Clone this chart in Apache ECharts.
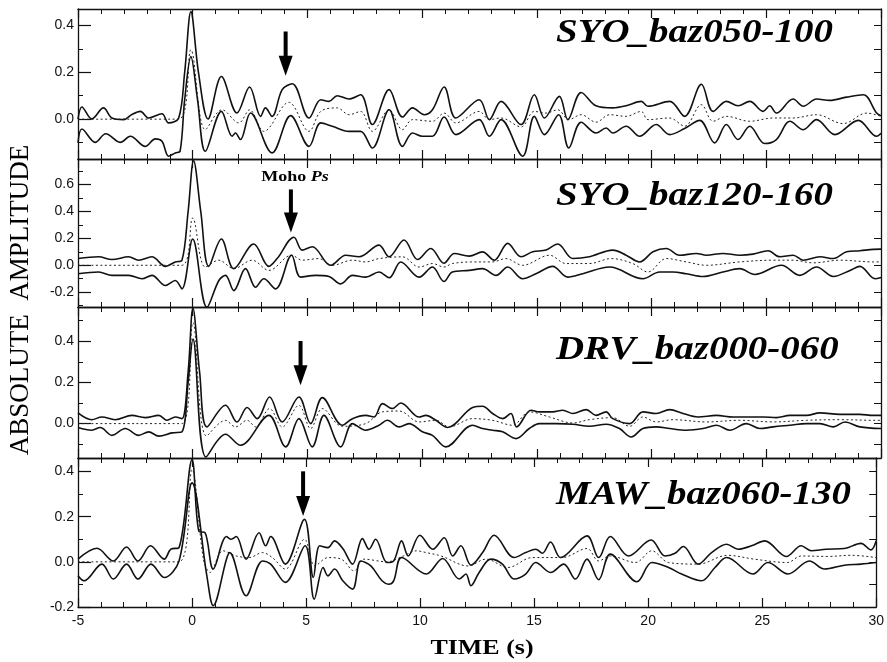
<!DOCTYPE html>
<html>
<head>
<meta charset="utf-8">
<title>Receiver functions</title>
<script src="https://cdn.jsdelivr.net/npm/echarts@6/dist/echarts.min.js"></script>
<style>
  html, body { margin: 0; padding: 0; background: #fff; }
  #wrap { position: relative; width: 887px; height: 662px; }
  .panel { position: absolute; left: 0; top: 0; width: 887px; height: 662px; }
</style>
</head>
<body>
<div id="wrap">
  <div class="panel" id="panel0"></div>
  <div class="panel" id="panel1"></div>
  <div class="panel" id="panel2"></div>
  <div class="panel" id="panel3"></div>
</div>
<script>
// station / back-azimuth labels, one per panel
const panelNames = ['SYO_baz050-100', 'SYO_baz120-160', 'DRV_baz000-060', 'MAW_baz060-130'];

// amplitude range and tick values per panel
const yMin = [-0.17, -0.31, -0.167, -0.2];
const yMax = [0.47, 0.79, 0.566, 0.46];
const yLabelTicks = [[0, 0.2, 0.4], [-0.2, 0, 0.2, 0.4, 0.6], [0, 0.2, 0.4], [-0.2, 0, 0.2, 0.4]];
const yMinorTicks = [[-0.1, 0.1, 0.3], [-0.3, -0.1, 0.1, 0.3, 0.5, 0.7], [-0.1, 0.1, 0.3, 0.5], [-0.1, 0.1, 0.3]];
const yRightTicks = [
  [-0.1, 0, 0.1, 0.2, 0.3, 0.4],
  [-0.2, 0, 0.2, 0.4, 0.6],
  [-0.1, 0, 0.1, 0.2, 0.3, 0.4, 0.5],
  [-0.1, 0, 0.1, 0.2, 0.3, 0.4]
];

// [time (s), amplitude] — upper bound, mean (dotted), lower bound
const p1Upper = [[-5,0.0],[-4.83,0.052],[-4.40,0.001],[-3.89,0.048],[-3.52,0.005],[-3.01,-0.002],[-2.65,0.020],[-2.28,0.033],[-1.92,0.005],[-1.34,0.023],[-1.05,-0.016],[-0.61,0.005],[-0.35,0.2],[-0.08,0.459],[0.25,0.2],[0.67,0.001],[1.25,0.182],[1.93,0.026],[2.48,0.137],[2.96,0.012],[3.17,0.048],[3.46,0.012],[3.90,0.126],[4.34,0.151],[5.07,0.005],[5.58,0.083],[5.94,0.076],[6.30,0.100],[6.81,0.086],[7.32,0.104],[7.83,-0.023],[8.56,0.126],[9.14,0.009],[9.58,0.048],[10.09,0.019],[10.45,0.040],[10.96,0.137],[11.47,0.005],[12.49,0.083],[12.93,-0.002],[13.44,0.076],[14.31,-0.023],[14.89,0.104],[15.33,0.005],[15.98,0.097],[16.35,-0.002],[16.93,0.114],[17.58,0.057],[18.31,0.048],[18.89,0.057],[19.55,0.076],[19.84,0.055],[20.79,0.076],[21.44,0.012],[22.17,0.149],[22.68,0.033],[23.26,0.076],[23.77,0.057],[24.28,0.076],[24.86,0.033],[25.15,0.057],[25.44,0.026],[26.17,0.086],[26.61,0.055],[27.19,0.086],[27.77,0.080],[28.50,0.094],[29.23,0.104],[29.81,0.026],[30,0.015]];
const p1Mean = [[-5,0],[-4.0,0.0],[-2.5,0.0],[-0.61,0.0],[-0.08,0.296],[0.55,-0.045],[1.28,0.040],[2.01,-0.016],[2.48,0.040],[3.10,-0.052],[4.19,0.072],[5.07,-0.052],[5.58,0.033],[6.30,0.048],[6.81,0.019],[7.32,0.033],[7.83,-0.052],[8.56,0.040],[9.14,-0.045],[9.58,-0.002],[10.45,-0.009],[10.96,0.026],[11.47,-0.016],[12.49,0.033],[12.93,-0.002],[13.44,0.005],[14.31,-0.033],[14.89,0.033],[15.40,0.026],[15.91,0.040],[16.39,-0.002],[16.93,0.019],[17.58,-0.013],[18.17,0.019],[18.89,0.012],[19.55,0.033],[19.84,-0.002],[20.79,0.005],[21.44,-0.030],[22.17,0.062],[22.68,-0.009],[23.26,0.012],[24.28,-0.009],[25.30,0.005],[26.17,0.005],[27.19,0.019],[28.35,-0.019],[29.38,0.026],[30,0.012]];
const p1Lower = [[-5,-0.101],[-4.83,-0.042],[-4.25,-0.099],[-3.79,-0.062],[-3.16,-0.099],[-2.72,-0.073],[-2.07,-0.116],[-1.63,-0.084],[-1.34,-0.094],[-1.05,-0.158],[-0.76,-0.144],[-0.55,-0.137],[-0.35,0.083],[-0.08,0.267],[0.21,0.083],[0.55,-0.137],[1.25,0.033],[1.72,-0.073],[1.86,-0.059],[2.08,-0.087],[2.52,0.026],[3.46,-0.144],[4.27,0.015],[5.07,-0.116],[5.58,-0.016],[6.08,-0.030],[6.81,-0.052],[7.32,-0.052],[7.83,-0.123],[8.56,0.040],[9.14,-0.116],[9.58,-0.059],[10.01,-0.073],[10.45,-0.073],[10.96,0.009],[11.47,-0.066],[12.49,-0.002],[12.93,-0.073],[13.44,-0.002],[14.38,-0.158],[14.89,0.012],[15.33,-0.066],[15.95,0.019],[16.39,-0.123],[16.93,-0.013],[17.58,-0.059],[18.02,-0.038],[18.31,-0.059],[18.89,-0.030],[19.48,-0.073],[20.20,-0.023],[20.79,-0.066],[21.44,-0.040],[22.10,-0.005],[22.75,-0.101],[23.26,-0.023],[23.77,-0.087],[24.28,-0.030],[24.93,-0.104],[25.44,-0.087],[26.03,-0.009],[26.61,-0.045],[27.19,-0.002],[27.99,-0.066],[29.01,-0.005],[29.81,-0.073],[30,-0.06]];

const p2Upper = [[-5,0.050],[-4.10,0.063],[-3.52,0.043],[-2.79,0.063],[-2.36,0.038],[-1.78,0.063],[-1.19,-0.008],[-0.76,0.025],[-0.47,0.038],[-0.2,0.4],[0.04,0.777],[0.35,0.4],[0.70,-0.008],[1.25,0.195],[1.79,-0.025],[2.66,0.158],[3.32,-0.008],[3.68,0.050],[4.41,0.208],[4.77,0.113],[5.21,0.138],[6.01,0.0],[6.67,0.075],[7.25,0.063],[8.12,0.150],[8.56,0.063],[9.21,0.188],[9.80,0.043],[10.38,0.125],[10.95,0.015],[11.40,0.088],[12.05,0.068],[12.63,0.100],[13.14,0.038],[13.73,0.163],[14.31,0.063],[14.82,0.100],[15.40,0.113],[15.91,0.158],[16.57,0.050],[17.29,0.063],[18.31,0.113],[18.89,0.075],[19.48,0.025],[20.06,0.100],[20.64,0.125],[21.22,0.075],[21.95,0.088],[22.39,0.075],[23.11,0.088],[23.84,0.075],[24.42,0.083],[25.08,0.108],[25.59,0.063],[26.17,0.075],[26.61,0.038],[27.34,0.063],[27.92,0.050],[28.50,0.100],[29.08,0.108],[29.66,0.118],[30,0.120]];
const p2Mean = [[-5,0],[-2.5,0.0],[-0.47,0.0],[0.0,0.351],[0.55,-0.013],[1.14,0.038],[1.79,-0.025],[2.59,0.038],[3.32,-0.038],[4.31,0.075],[4.77,0.038],[5.50,0.050],[6.08,0.0],[6.96,0.038],[7.54,0.025],[8.12,0.050],[9.14,0.063],[9.87,-0.013],[10.45,0.013],[10.95,-0.013],[11.32,0.013],[12.20,0.025],[13.07,0.025],[13.65,0.050],[14.38,0.0],[15.55,0.075],[16.27,0.013],[17.29,0.013],[18.24,0.050],[19.18,0.013],[19.84,-0.050],[20.64,0.050],[21.52,0.025],[22.39,0.0],[23.84,0.025],[25.30,0.038],[26.17,0.038],[27.04,0.018],[28.21,0.038],[29.66,0.025],[30,0.025]];
const p2Lower = [[-5,-0.063],[-4.10,-0.050],[-3.52,-0.075],[-2.79,-0.075],[-2.21,-0.100],[-1.78,-0.075],[-1.19,-0.150],[-0.76,-0.113],[-0.47,-0.175],[0.0,0.195],[0.62,-0.313],[1.14,-0.113],[1.43,-0.075],[1.79,-0.188],[2.30,-0.025],[2.74,-0.163],[3.10,-0.100],[3.61,-0.175],[4.31,0.075],[4.70,-0.088],[5.36,-0.075],[5.94,-0.083],[6.45,-0.138],[6.96,-0.075],[7.54,-0.088],[8.12,-0.050],[8.56,-0.093],[9.07,0.025],[9.87,-0.088],[10.45,-0.013],[10.95,-0.120],[11.32,-0.050],[12.05,-0.038],[12.63,-0.025],[13.22,-0.075],[13.73,-0.013],[14.38,-0.100],[14.96,-0.063],[15.69,-0.008],[16.35,-0.088],[17.00,-0.063],[18.17,-0.013],[19.62,-0.100],[20.35,-0.050],[20.93,-0.050],[21.52,-0.063],[22.24,-0.083],[23.11,-0.050],[23.84,-0.025],[24.50,-0.068],[25.66,0.0],[26.46,-0.075],[27.19,-0.013],[27.92,-0.083],[28.65,-0.038],[29.08,-0.008],[29.74,-0.100],[30,-0.090]];

const p3Upper = [[-5,0.052],[-4.40,0.019],[-3.96,0.032],[-3.38,0.019],[-2.65,0.040],[-2.07,0.029],[-1.48,0.040],[-1.12,0.016],[-0.76,0.032],[-0.47,0.024],[-0.2,0.25],[0.01,0.560],[0.3,0.25],[0.62,-0.016],[1.43,0.089],[1.93,0.008],[2.37,0.078],[2.81,0.024],[3.35,0.129],[3.90,0.008],[4.63,0.129],[5.14,0.0],[5.65,0.126],[6.52,-0.008],[6.96,0.024],[7.54,0.040],[7.90,0.032],[8.27,0.097],[8.70,0.073],[9.07,0.100],[9.87,0.032],[10.16,0.040],[10.60,0.016],[11.11,-0.019],[12.20,0.078],[12.63,0.084],[13.07,0.049],[13.51,0.024],[13.87,0.049],[14.12,-0.016],[14.75,0.065],[15.11,0.057],[15.69,0.057],[16.13,0.065],[16.57,0.049],[17.15,0.068],[17.58,0.040],[18.02,0.057],[18.31,0.024],[19.04,0.0],[19.62,0.057],[20.20,0.049],[20.79,0.068],[21.37,0.049],[22.02,0.032],[22.83,0.040],[23.55,0.032],[24.28,0.032],[24.86,0.032],[25.44,0.029],[26.03,0.040],[26.75,0.040],[27.34,0.052],[28.21,0.045],[29.08,0.045],[29.66,0.040],[30,0.040]];
const p3Mean = [[-5,0],[-2.5,0.0],[-0.47,0.0],[0.01,0.490],[0.6,-0.06],[1.43,0.016],[1.86,-0.016],[2.37,0.016],[2.74,-0.016],[3.35,0.073],[3.90,-0.016],[4.63,0.089],[5.14,-0.024],[5.65,0.073],[6.52,-0.013],[7.54,0.0],[8.27,0.057],[9.0,0.061],[9.87,0.008],[10.60,0.016],[11.18,-0.016],[12.20,0.024],[13.07,0.016],[13.94,-0.008],[14.67,0.057],[15.55,0.032],[16.57,0.003],[17.29,0.019],[18.31,0.029],[19.04,-0.013],[19.62,0.032],[20.20,0.008],[20.93,0.019],[22.39,0.008],[23.84,0.016],[25.30,0.008],[26.75,0.016],[28.21,0.019],[29.66,0.016],[30,0.016]];
const p3Lower = [[-5,-0.019],[-4.40,-0.032],[-4.03,-0.019],[-3.52,-0.057],[-2.94,-0.024],[-2.36,-0.057],[-1.92,-0.040],[-1.48,-0.061],[-0.90,-0.045],[-0.47,-0.040],[-0.2,0.2],[0.01,0.410],[0.58,-0.162],[1.43,-0.052],[2.08,-0.105],[3.32,0.040],[4.05,-0.113],[4.63,0.024],[5.21,-0.113],[5.72,0.040],[6.45,-0.113],[6.96,0.0],[7.54,-0.032],[8.12,-0.008],[8.48,0.016],[9.0,-0.016],[9.43,0.0],[10.01,-0.040],[10.45,-0.057],[11.03,-0.113],[12.20,-0.008],[12.63,-0.024],[13.07,-0.032],[13.51,-0.040],[14.09,-0.073],[14.67,-0.024],[15.11,0.0],[15.84,0.0],[16.57,-0.003],[17.29,-0.013],[18.02,-0.003],[18.60,-0.024],[19.11,-0.065],[19.62,-0.024],[20.20,-0.016],[20.79,-0.024],[21.52,-0.032],[22.24,-0.024],[22.83,-0.008],[23.41,-0.032],[24.13,0.0],[24.72,-0.024],[25.30,-0.016],[26.03,-0.008],[26.75,0.0],[27.34,0.0],[27.92,-0.016],[28.43,0.008],[29.08,-0.016],[30,-0.024]];

const p4Upper = [[-5,0.012],[-4.17,0.060],[-3.45,0.004],[-2.87,0.066],[-2.37,0.004],[-1.82,0.071],[-1.22,0.012],[-0.93,0.056],[-0.57,0.063],[0.0,0.453],[0.30,0.135],[0.57,0.129],[0.93,-0.032],[1.51,0.112],[1.72,0.100],[1.94,0.112],[2.37,0.012],[2.94,0.129],[3.23,0.071],[3.45,0.112],[4.09,-0.010],[4.93,0.188],[5.32,-0.069],[5.60,0.071],[5.96,0.063],[6.25,0.093],[6.61,0.059],[7.04,-0.010],[7.47,0.103],[7.76,0.056],[8.05,0.100],[8.55,-0.003],[8.84,0.004],[9.19,0.093],[9.48,0.026],[9.99,0.118],[10.56,0.056],[11.06,0.107],[11.43,0.026],[11.79,0.071],[12.23,-0.015],[12.74,0.041],[13.25,0.118],[14.12,0.019],[14.63,0.041],[15.07,0.056],[15.36,0.038],[15.72,0.088],[16.16,0.019],[17.32,0.115],[17.83,0.019],[18.34,0.112],[19.14,0.026],[20.13,0.097],[20.74,0.026],[21.18,0.038],[21.54,0.068],[22.20,-0.010],[22.78,0.041],[23.44,0.078],[23.94,0.056],[24.53,0.071],[25.11,0.093],[26.06,0.024],[26.71,0.071],[27.15,0.049],[27.80,0.056],[28.60,0.059],[29.33,0.082],[29.77,0.053],[30,0.093]];
const p4Mean = [[-5,0],[-2.5,0.0],[-0.57,0.0],[0.0,0.409],[0.50,0.012],[0.79,-0.047],[1.36,0.049],[1.94,0.026],[2.51,0.019],[3.09,0.041],[3.52,0.019],[4.09,-0.032],[4.93,0.100],[5.39,-0.018],[5.96,0.019],[6.54,0.012],[7.11,-0.040],[7.54,0.012],[8.55,0.0],[9.27,0.026],[9.84,0.049],[10.27,0.041],[10.92,0.026],[12.10,-0.018],[12.89,0.012],[13.85,-0.025],[14.92,0.019],[16.22,0.019],[17.32,0.059],[17.83,0.004],[18.34,0.026],[19.44,-0.003],[20.16,0.049],[20.89,-0.003],[22.20,-0.010],[23.48,0.029],[24.65,0.012],[26.10,-0.003],[26.71,0.026],[27.88,0.024],[28.90,0.029],[30,0.019]];
const p4Lower = [[-5,-0.062],[-4.74,-0.084],[-3.95,-0.010],[-3.45,-0.076],[-2.87,-0.010],[-2.37,-0.076],[-1.80,-0.010],[-1.22,-0.069],[-0.57,0.004],[0.0,0.350],[0.65,-0.062],[0.93,-0.194],[1.51,0.012],[1.65,0.041],[2.37,-0.150],[3.09,0.004],[3.45,-0.010],[4.09,-0.091],[4.96,0.071],[5.36,-0.165],[5.75,-0.025],[5.96,-0.062],[6.25,-0.032],[6.61,-0.084],[7.04,-0.121],[7.40,0.004],[7.84,-0.018],[8.33,-0.084],[8.62,-0.099],[8.84,-0.084],[9.19,0.019],[10.27,-0.054],[10.99,0.015],[11.72,-0.076],[12.01,-0.054],[12.23,-0.106],[12.59,-0.047],[13.10,0.012],[13.61,-0.010],[14.12,-0.076],[14.63,-0.054],[15.07,-0.003],[15.72,-0.047],[16.30,-0.010],[16.81,-0.076],[17.32,0.012],[17.83,-0.079],[18.34,0.034],[19.51,-0.088],[20.16,-0.003],[20.89,-0.025],[21.47,-0.054],[22.34,-0.084],[22.93,-0.025],[23.44,0.019],[24.60,-0.054],[25.25,-0.003],[26.13,-0.054],[27.07,0.004],[27.73,-0.032],[28.60,-0.015],[29.33,-0.010],[30,-0.003]];

// Moho Ps arrows: time, start amplitude, tip amplitude
const arrowTime = [4.05, 4.28, 4.70, 4.87];
const arrowTop  = [0.374, 0.564, 0.401, 0.401];
const arrowTip  = [0.185, 0.243, 0.186, 0.203];
const arrowLabel = ['', 'Moho Ps', '', ''];

const panels = [
  [p1Upper, p1Mean, p1Lower],
  [p2Upper, p2Mean, p2Lower],
  [p3Upper, p3Mean, p3Lower],
  [p4Upper, p4Mean, p4Lower]
];

const gridBoxes = [
  { top: 9, height: 150 },
  { top: 159, height: 148 },
  { top: 307, height: 151 },
  { top: 458, height: 149 }
];
const titleY = [33, 196, 350, 495];
const HEAD_W = 14, HEAD_L = 20;

const serif = '"Liberation Serif", "Times New Roman", serif';
const sans = '"Liberation Sans", Arial, sans-serif';
const ink = '#111';

// one transparent chart per panel, stacked on top of each other
panels.forEach((lines, i) => {
  const chart = echarts.init(document.getElementById('panel' + i), null, { renderer: 'canvas' });

  const xAxis = ['bottom', 'top'].map(pos => ({
    type: 'value',
    position: pos,
    min: -5,
    max: 30,
    interval: 5,
    axisLine: { show: true, onZero: false, lineStyle: { color: ink, width: 1.3 } },
    axisTick: { show: true, inside: true, length: 9, lineStyle: { color: ink, width: 1.2 } },
    minorTick: { show: true, splitNumber: 5, length: 5, lineStyle: { color: ink, width: 1 } },
    axisLabel: { show: pos === 'bottom' && i === 3, color: ink, fontFamily: sans, fontSize: 14, margin: 7 },
    splitLine: { show: false }
  }));

  const yAxis = [
    { // left: labelled major ticks
      type: 'value', position: 'left', min: yMin[i], max: yMax[i],
      axisLine: { show: true, onZero: false, lineStyle: { color: ink, width: 1.3 } },
      axisTick: { show: true, inside: true, length: 13, customValues: yLabelTicks[i], lineStyle: { color: ink, width: 1.2 } },
      axisLabel: { show: true, customValues: yLabelTicks[i], formatter: v => v.toFixed(1), color: ink, fontFamily: sans, fontSize: 14, margin: 4 },
      splitLine: { show: false }
    },
    { // left: short minor ticks
      type: 'value', position: 'left', min: yMin[i], max: yMax[i],
      axisLine: { show: false, onZero: false },
      axisTick: { show: true, inside: true, length: 5, customValues: yMinorTicks[i], lineStyle: { color: ink, width: 1 } },
      axisLabel: { show: false },
      splitLine: { show: false }
    },
    { // right frame with inward ticks
      type: 'value', position: 'right', min: yMin[i], max: yMax[i],
      axisLine: { show: true, onZero: false, lineStyle: { color: ink, width: 1.3 } },
      axisTick: { show: true, inside: true, length: 7, customValues: yRightTicks[i], lineStyle: { color: ink, width: 1 } },
      axisLabel: { show: false },
      splitLine: { show: false }
    }
  ];

  const styles = [
    { color: ink, width: 1.6, type: 'solid' },
    { color: '#222', width: 1, type: [2, 2.5] },
    { color: ink, width: 1.6, type: 'solid' }
  ];
  const series = lines.map((data, k) => ({
    type: 'line', xAxisIndex: 0, yAxisIndex: 0,
    data: data, symbol: 'none', smooth: 0.35,
    lineStyle: styles[k], silent: true
  }));

  // arrow: thick shaft ending in a downward triangle whose point sits on the tip value
  const pxPerUnit = gridBoxes[i].height / (yMax[i] - yMin[i]);
  const headCentre = arrowTip[i] + (HEAD_L / 2) / pxPerUnit;
  series.push({
    type: 'line', xAxisIndex: 0, yAxisIndex: 0, silent: true, z: 5,
    lineStyle: { color: '#000', width: 4 },
    itemStyle: { color: '#000' },
    showSymbol: true,
    data: [
      { value: [arrowTime[i], arrowTop[i]], symbol: 'none' },
      { value: [arrowTime[i], headCentre], symbol: 'triangle', symbolSize: [HEAD_W, HEAD_L], symbolRotate: 180 }
    ]
  });

  chart.setOption({
    animation: false,
    backgroundColor: 'transparent',
    grid: { left: 78, right: 6, top: gridBoxes[i].top, height: gridBoxes[i].height },
    xAxis: xAxis,
    yAxis: yAxis,
    series: series
  });

  const graphic = [{
    type: 'text', x: 556, y: titleY[i], scaleX: 1.18,
    style: { text: panelNames[i], font: 'italic bold 33px ' + serif, fill: '#000', align: 'left', verticalAlign: 'middle' }
  }];
  if (arrowLabel[i]) {
    const parts = arrowLabel[i].split(' ');
    const at = chart.convertToPixel({ xAxisIndex: 0, yAxisIndex: 0 }, [arrowTime[i], arrowTop[i]]);
    graphic.push({
      type: 'text', x: at[0] + 4, y: at[1] - 12, scaleX: 1.2,
      style: {
        text: '{a|' + parts[0] + ' }{b|' + parts[1] + '}',
        align: 'center', verticalAlign: 'middle', fill: '#000',
        rich: {
          a: { font: 'bold 15px ' + serif, fill: '#000' },
          b: { font: 'italic bold 15px ' + serif, fill: '#000' }
        }
      }
    });
  }
  if (i === 3) {
    graphic.push({
      type: 'text', x: 21, y: 300, rotation: Math.PI / 2,
      style: { text: 'ABSOLUTE  AMPLITUDE', font: '27px ' + serif, fill: '#000', align: 'center', verticalAlign: 'middle' }
    });
    graphic.push({
      type: 'text', x: 482, y: 648, scaleX: 1.18,
      style: { text: 'TIME (s)', font: 'bold 22px ' + serif, fill: '#000', align: 'center', verticalAlign: 'middle' }
    });
  }
  chart.setOption({ graphic: graphic });
});
</script>
</body>
</html>
